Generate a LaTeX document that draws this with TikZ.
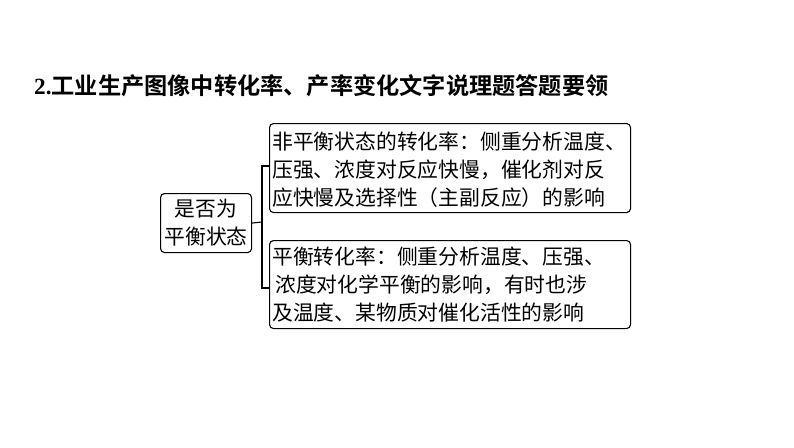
\documentclass[tikz,border=0pt]{standalone}
\usepackage{fontspec}
\setmainfont{Liberation Serif}
\newfontfamily\cjk{Noto Sans CJK SC}
\newfontfamily\cjkb{Noto Sans CJK SC Bold}
\begin{document}
\begin{tikzpicture}[x=1pt,y=-1pt,
  box/.style={draw=black, line width=1.1pt, rounded corners=4pt, inner sep=0pt},
  txt/.style={font=\cjk\fontsize{20.8}{28}\selectfont, align=left, anchor=west, inner sep=0pt},
  link/.style={draw=black, line width=1.1pt}]
\useasboundingbox (0,0) rectangle (794,447);
\node[anchor=west, inner sep=0pt, font=\fontsize{23.2}{28}\selectfont] (title) at (34,86)
  {\textbf{2.}\cjkb 工业生产图像中转化率、产率变化文字说理题答题要领};
% left box
\node[box, minimum width=91, minimum height=59, anchor=north west] (L) at (160,193) {};
\node[font=\cjk\fontsize{20.8}{28}\selectfont, align=center, inner sep=0pt] (Lt) at (L.center) {是否为\\平衡状态};
% top right box
\node[box, minimum width=361, minimum height=89, anchor=north west] (A) at (269,123) {};
\node[txt] (At) at (272,170) {非平衡状态的转化率：侧重分析温度、\\压强、浓度对反应快慢，催化剂对反\\应快慢及选择性（主副反应）的影响};
% bottom right box
\node[box, minimum width=361, minimum height=88, anchor=north west] (B) at (269,240) {};
\node[txt] (Bt) at (272,285) {平衡转化率：侧重分析温度、压强、\\\hspace{3pt}浓度对化学平衡的影响，有时也涉\\及温度、某物质对催化活性的影响};
% connector
\coordinate (J) at (262,222);
\draw[link] (L.east) -- (J);
\draw[link] (A.west |- 0,166) -| (J) |- (B.west |- 0,288);
\end{tikzpicture}
\end{document}
